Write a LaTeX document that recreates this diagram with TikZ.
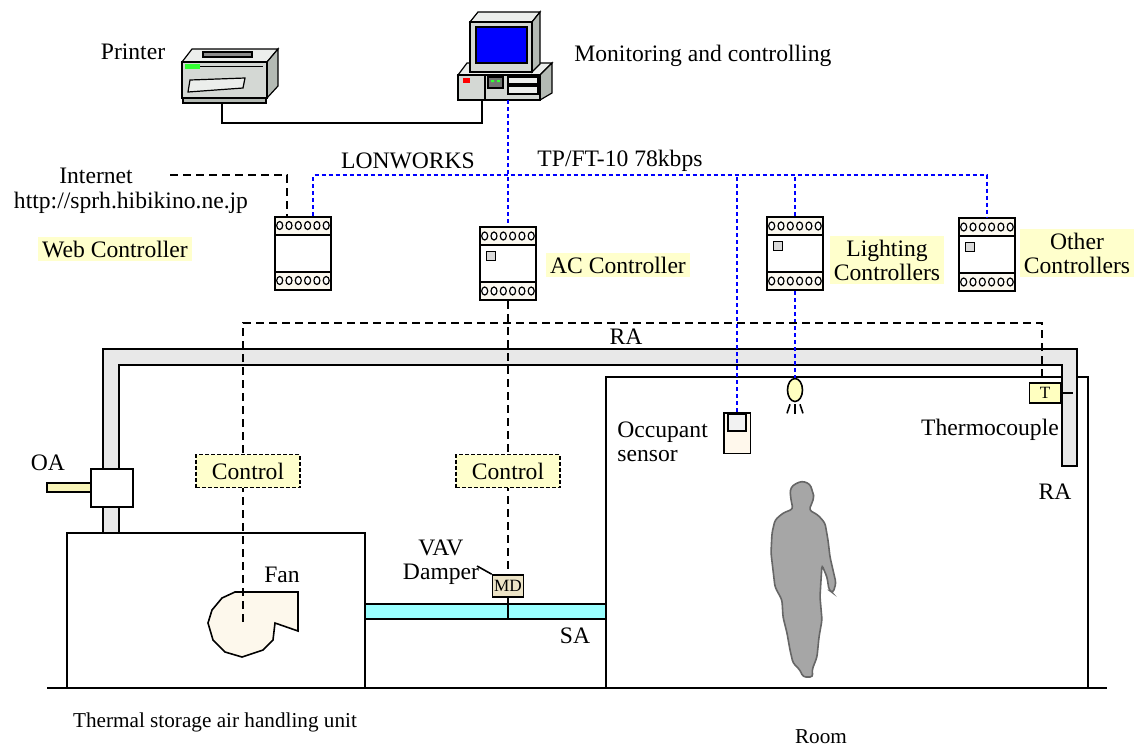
\documentclass[tikz,border=0pt]{standalone}
\usepackage{fontspec}
\setmainfont{Liberation Serif}
\usetikzlibrary{calc, positioning, shapes.geometric}
\definecolor{busblue}{HTML}{0000FF}
\definecolor{notefill}{HTML}{FFFFCC}
\definecolor{termfill}{HTML}{FBF8EF}
\definecolor{ductgray}{HTML}{E8E8E8}
\definecolor{safill}{HTML}{99FFFF}
\definecolor{oafill}{HTML}{F8F4B8}
\definecolor{fanfill}{HTML}{FDF8EC}
\definecolor{mdfill}{HTML}{ECE3C6}
\definecolor{tfill}{HTML}{FFFFC0}
\definecolor{bulbfill}{HTML}{FFFFC0}
\definecolor{sensfill}{HTML}{FFF8EC}
\definecolor{manfill}{HTML}{A6A6A6}
\definecolor{mandraw}{HTML}{666666}
\definecolor{prfront}{HTML}{D4D8D4}
\definecolor{prtop}{HTML}{ECEEEC}
\definecolor{prside}{HTML}{B4BAB4}
\definecolor{ledgreen}{HTML}{33FF33}
\definecolor{screenblue}{HTML}{0000FF}
\tikzset{
  lbl/.style={font=\fontsize{11.8}{12}\selectfont, inner sep=1pt, align=center},
  small/.style={font=\fontsize{10.6}{12}\selectfont, inner sep=1pt},
  note/.style={lbl, fill=notefill, inner xsep=2pt, inner ysep=2pt},
  ctrlnote/.style={lbl, draw, fill=notefill, dash pattern=on 2pt off 1pt, line width=0.6pt, minimum width=52pt, minimum height=16.5pt},
  wire/.style={line width=0.8pt},
  art/.style={line width=0.6pt},
  bus/.style={draw=busblue, line width=0.9pt, dash pattern=on 2pt off 1.5pt},
  ctl/.style={line width=0.8pt, dash pattern=on 4pt off 2.5pt},
  tag/.style={draw, line width=0.8pt, font=\fontsize{8.6}{10}\selectfont, inner sep=0pt},
  lon/.style={draw, line width=1pt, fill=white, minimum width=28pt, minimum height=36.5pt, inner sep=0pt,
    path picture={
      \coordinate (pnw) at (path picture bounding box.north west);
      \coordinate (pse) at (path picture bounding box.south east);
      \fill[termfill] (pnw) rectangle ($(pse |- pnw)+(0,-9pt)$);
      \fill[termfill] (pse) rectangle ($(pnw |- pse)+(0,9pt)$);
      \draw[line width=1pt] ($(pnw)+(0,-9pt)$) -- ($(pse |- pnw)+(0,-9pt)$);
      \draw[line width=1pt] ($(pnw |- pse)+(0,9pt)$) -- ($(pse)+(0,9pt)$);
      \foreach \k in {0,...,5} {
        \draw[line width=0.6pt, fill=white] ($(pnw)+(2.35pt+\k*4.65pt,-4.5pt)$) ellipse (1.5pt and 2pt);
        \draw[line width=0.6pt, fill=white] ($(pnw |- pse)+(2.35pt+\k*4.65pt,4.5pt)$) ellipse (1.5pt and 2pt);
      }
    }},
  led/.style={draw, line width=0.6pt, fill=black!15, minimum size=4.5pt, inner sep=0pt, anchor=north west},
}

\begin{document}
\begin{tikzpicture}[x=0.5pt, y=-0.5pt]
  \useasboundingbox (0,0) rectangle (1137,746);

  % floor, plant room and the room
  \draw[wire] (47,688) -- (1107,688);
  \draw[wire] (67,533) rectangle (365,688);
  \draw[wire] (606,377) rectangle (1088,688);

  % return air duct
  \draw[wire, fill=ductgray] (103,533) -- (103,349) -- (1077,349) -- (1077,466)
    -- (1062,466) -- (1062,365) -- (119,365) -- (119,533) -- cycle;
  % outdoor air intake
  \draw[wire, fill=oafill] (47,483) rectangle (91,492);
  \draw[wire, fill=white] (91,469) rectangle (133,507);
  % supply air duct
  \draw[wire, fill=safill] (365,604) rectangle (606,619);
  \coordinate (sabot) at (0,619);

  % fan scroll
  \draw[wire, fill=fanfill] (235,592) -- (298,592) -- (298,631) -- (275,623) -- (273,640)
    -- (263,650) -- (242,657) -- (225,652) -- (213,640) -- (208,623) -- (212,610)
    -- (222,598) -- cycle;
  \coordinate (fan) at (243,622);

  % person
  \draw[line width=0.8pt, draw=mandraw, fill=manfill, rounded corners=1.5pt]
    (793,485) -- (802,481) -- (810,484) -- (813,493) -- (814,497) -- (812,503)
    -- (809,510) -- (818,515) -- (825,523) -- (828,540) -- (830,557) -- (833,570)
    -- (836,583) -- (833,593) -- (829,590) -- (827,577) -- (824,570) -- (822,565)
    -- (821,580) -- (820,597) -- (822,620) -- (819,637) -- (817,657) -- (812,670)
    -- (813,677) -- (803,677) -- (800,670) -- (793,663) -- (790,650) -- (787,633)
    -- (783,617) -- (782,600) -- (775,587) -- (773,570) -- (771,553) -- (772,533)
    -- (775,520) -- (783,513) -- (793,509) -- (791,500) -- (790,490) -- cycle;

  % printer
  \draw[art, fill=prtop] (182,62) -- (192,49) -- (278,49) -- (267,62) -- cycle;
  \draw[art, fill=prside] (267,62) -- (278,49) -- (278,86) -- (267,98) -- cycle;
  \draw[art, fill=prfront] (182,62) rectangle (267,98);
  \fill[ledgreen] (185,64) rectangle (200,69);
  \draw[art] (200,66.5) -- (263,66.5);
  \draw[art, fill=black!45] (203,52) rectangle (252,57);
  \draw[art, fill=prtop] (190,80) -- (245,78) -- (243,88) -- (188,92) -- cycle;
  \draw[art, fill=prside] (183,98) rectangle (266,103);
  \coordinate (prn) at (222,103);

  % computer: base unit
  \draw[art, fill=prtop] (458,75) -- (467,63) -- (552,63) -- (540,75) -- cycle;
  \draw[art, fill=prside] (540,75) -- (552,63) -- (552,93) -- (540,100) -- cycle;
  \draw[art, fill=prfront] (458,75) rectangle (540,100);
  \fill[red] (463,78) rectangle (470,83);
  \draw[art] (485,75) -- (485,100);
  \draw[art, fill=black!55] (488,77) rectangle (503,88);
  \fill[ledgreen] (491,80) rectangle (494,82) (497,80) rectangle (500,82);
  \draw[art, fill=prtop] (508,77) rectangle (538,84);
  \draw[art, fill=prtop] (508,86) rectangle (538,94);
  % computer: monitor
  \draw[art, fill=prtop] (470,22) -- (478,12) -- (540,12) -- (532,22) -- cycle;
  \draw[art, fill=prside] (532,22) -- (540,12) -- (540,64) -- (532,72) -- cycle;
  \draw[art, fill=prfront] (470,22) rectangle (532,72);
  \draw[art, fill=screenblue] (476,27) rectangle (527,63);
  \coordinate (pcp) at (482,100);
  \coordinate (pcb) at (508,100);
  \coordinate (lanr) at (482,123);

  % LonWorks controllers
  \node[lon] (web) at (303,253) {};
  \node[lon] (ac) at (508,263.5) {};
  \node[led] (acled) at ([xshift=3.5pt, yshift=-12.5pt]ac.north west) {};
  \node[lon] (lit) at (795,253.5) {};
  \node[led] (litled) at ([xshift=3.5pt, yshift=-12.5pt]lit.north west) {};
  \node[lon] (other) at (987,254.5) {};
  \node[led] (othled) at ([xshift=3.5pt, yshift=-12.5pt]other.north west) {};

  % field devices
  \node[tag, fill=mdfill, minimum width=15.5pt, minimum height=11pt] (md) at (508,586) {MD};
  \node[tag, fill=tfill, minimum width=15.5pt, minimum height=10pt] (tc) at (1045,393) {T};
  \node[draw, wire, fill=sensfill, minimum width=13.3pt, minimum height=20.3pt, inner sep=0pt] (occ) at (737,433) {};
  \node[draw, wire, fill=black!5, minimum width=9pt, minimum height=8.5pt, inner sep=0pt, anchor=north] (occwin) at ([yshift=-0.6pt]occ.north) {};
  \node[ellipse, draw, wire, fill=bulbfill, minimum width=7.5pt, minimum height=11.5pt, inner sep=0pt] (bulb) at (795,390) {};
  \draw[wire] ([xshift=-2.5pt, yshift=-1pt]bulb.south) -- ++(-1.5pt,-4.5pt);
  \draw[wire] ([yshift=-1pt]bulb.south) -- ++(0,-5pt);
  \draw[wire] ([xshift=2.5pt, yshift=-1pt]bulb.south) -- ++(1.5pt,-4.5pt);

  % printer cable
  \draw[wire] (prn) |- (lanr) -- (pcp);

  % LonWorks bus
  \coordinate (bus) at (0,175);
  \draw[bus] (pcb) -- (ac.north);
  \draw[bus] ([xshift=5pt]web.north) |- (other.north |- bus) -- (other.north);
  \draw[bus] (lit.north) -- (lit.north |- bus);
  \draw[bus] (occ.north) -- (occ.north |- bus);
  \draw[bus] (lit.south) -- (bulb.north);

  % internet link
  \coordinate (netend) at (170,175);
  \draw[ctl] (netend) -| ([xshift=-8pt]web.north);

  % control wiring from the AC controller
  \coordinate (ctlbus) at (0,323);
  \draw[ctl] (ac.south) -- (md.north);
  \draw[ctl] (fan) -- (fan |- ctlbus) -| ([xshift=-1.5pt]tc.north);
  \draw[wire] (md.south) -- (md.south |- sabot);
  \coordinate (vavtip) at (477,566);
  \draw[wire] (vavtip) -- (md.north west);
  \draw[wire] (tc.east) -- (1073,393);

  \node[ctrlnote] (ctlfan) at (248,471) {Control};
  \node[ctrlnote] (ctlvav) at (508,471) {Control};

  % labels
  \node[lbl] (prnlbl) at (133,52) {Printer};
  \node[lbl, anchor=west] (pclbl) at (572,56) {Monitoring and controlling};
  \node[lbl] (lonlbl) at (408,161) {LONWORKS};
  \node[lbl] (tplbl) at (620,161) {TP/FT-10 78kbps};
  \node[lbl] (inet) at (96,176) {Internet};
  \node[lbl] (url) at (131,203) {http://sprh.hibikino.ne.jp};
  \node[note] (weblbl) at (115,249) {Web Controller};
  \node[note] (aclbl) at (618,265) {AC Controller};
  \node[note] (litlbl) at (887,260) {Lighting\\Controllers};
  \node[note] (othlbl) at (1077,253) {Other\\Controllers};
  \node[lbl] (ratop) at (626,337) {RA};
  \node[lbl, align=left, anchor=west] (occlbl) at (615,442) {Occupant\\sensor};
  \node[lbl] (tclbl) at (990,430) {Thermocouple};
  \node[lbl] (raright) at (1055,492) {RA};
  \node[lbl] (oalbl) at (48,463) {OA};
  \node[lbl] (vavlbl) at (441,562) {VAV\\Damper};
  \node[lbl] (fanlbl) at (282,575) {Fan};
  \node[lbl] (salbl) at (575,636) {SA};
  \node[small] (ahulbl) at (215,722) {Thermal storage air handling unit};
  \node[small] (roomlbl) at (821,737) {Room};
\end{tikzpicture}
\end{document}
